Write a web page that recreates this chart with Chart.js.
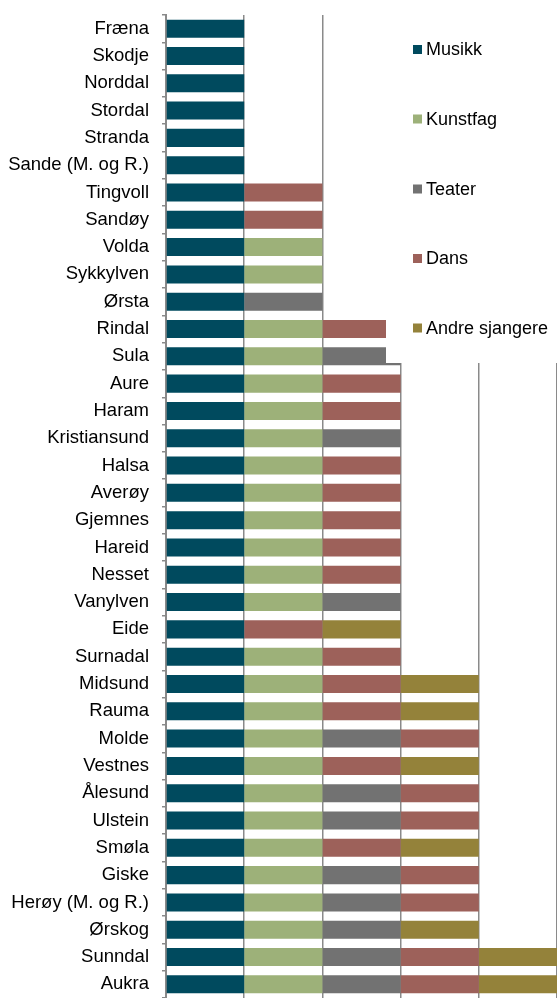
<!DOCTYPE html>
<html>
<head>
<meta charset="utf-8">
<script src="https://cdn.jsdelivr.net/npm/chart.js@4/dist/chart.umd.min.js"></script>
<style>
  html, body { margin: 0; padding: 0; background: #fff; }
  #wrap { width: 557px; height: 998px; }
</style>
</head>
<body>
<div id="wrap"><canvas id="tilbudChart"></canvas></div>
<script>
const kommuner = ["Fræna", "Skodje", "Norddal", "Stordal", "Stranda", "Sande (M. og R.)", "Tingvoll", "Sandøy",
    "Volda", "Sykkylven", "Ørsta", "Rindal", "Sula", "Aure", "Haram", "Kristiansund", "Halsa", "Averøy",
    "Gjemnes", "Hareid", "Nesset", "Vanylven", "Eide", "Surnadal", "Midsund", "Rauma", "Molde", "Vestnes",
    "Ålesund", "Ulstein", "Smøla", "Giske", "Herøy (M. og R.)", "Ørskog", "Sunndal", "Aukra"];

// 1 = kommunen har tilbud i sjangeren, 0 = ikke
const musikk   = [1,1,1,1,1,1,1,1,1,1,1,1,1,1,1,1,1,1,1,1,1,1,1,1,1,1,1,1,1,1,1,1,1,1,1,1];
const kunstfag = [0,0,0,0,0,0,0,0,1,1,0,1,1,1,1,1,1,1,1,1,1,1,0,1,1,1,1,1,1,1,1,1,1,1,1,1];
const teater   = [0,0,0,0,0,0,0,0,0,0,1,0,1,0,0,1,0,0,0,0,0,1,0,0,0,0,1,0,1,1,0,1,1,1,1,1];
const dans     = [0,0,0,0,0,0,1,1,0,0,0,1,0,1,1,0,1,1,1,1,1,0,1,1,1,1,1,1,1,1,1,1,1,0,1,1];
const andre    = [0,0,0,0,0,0,0,0,0,0,0,0,0,0,0,0,0,0,0,0,0,0,1,0,1,1,0,1,0,0,1,0,0,1,1,1];

const sjangere = ["Musikk", "Kunstfag", "Teater", "Dans", "Andre sjangere"];
const farger = ["#004a5e", "#9db179", "#727272", "#9d615a", "#94823a"];

const fontFamily = "'Liberation Sans', Arial, sans-serif";

// egen legende inne i plottet, med hvit bakgrunn
const legendePlugin = {
    id: 'legendeBoks',
    afterDraw(chart) {
        const ctx = chart.ctx;
        ctx.save();
        ctx.fillStyle = '#fff';
        ctx.fillRect(386, 0, 171, 363);
        ctx.font = '18px ' + fontFamily;
        ctx.textBaseline = 'middle';
        const ys = [49.5, 119, 189, 258.5, 328];
        chart.data.datasets.forEach((ds, i) => {
            ctx.fillStyle = ds.backgroundColor;
            ctx.fillRect(413, ys[i] - 4.5, 9, 9);
            ctx.fillStyle = '#000';
            ctx.fillText(ds.label, 426, ys[i] + 1);
        });
        ctx.restore();
    }
};

const datasett = [musikk, kunstfag, teater, dans, andre].map((verdier, i) => ({
    label: sjangere[i],
    data: verdier,
    backgroundColor: farger[i],
    borderWidth: 0,
    barPercentage: 0.66,
    categoryPercentage: 1
}));

new Chart(document.getElementById('tilbudChart'), {
    type: 'bar',
    data: { labels: kommuner, datasets: datasett },
    options: {
        indexAxis: 'y',
        responsive: true,
        maintainAspectRatio: false,
        animation: false,
        layout: { padding: { top: 15, right: 0, bottom: 0, left: 0 } },
        plugins: {
            legend: { display: false },
            tooltip: { enabled: false }
        },
        scales: {
            x: {
                stacked: true,
                min: 0,
                max: 5,
                ticks: { display: false, stepSize: 1 },
                border: { display: false },
                grid: { color: '#8a8a8a', lineWidth: 1.5, drawTicks: false },
                afterFit(scale) { scale.height = 0; }
            },
            y: {
                stacked: true,
                ticks: {
                    color: '#000',
                    padding: 13,
                    font: { family: fontFamily, size: 18.5 }
                },
                border: { display: true, color: '#8a8a8a', width: 2 },
                grid: { drawOnChartArea: false, drawTicks: true, tickLength: 4, color: '#8a8a8a', lineWidth: 1.5 },
                afterFit(scale) {
                    scale.width = 166;
                    scale.paddingTop = 0;
                    scale.paddingBottom = 0;
                }
            }
        }
    },
    plugins: [legendePlugin]
});
</script>
</body>
</html>
